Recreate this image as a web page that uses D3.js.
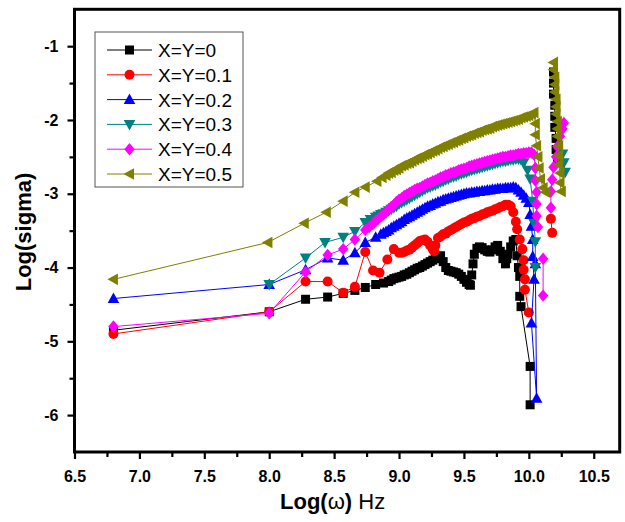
<!DOCTYPE html>
<html><head><meta charset="utf-8">
<script src="https://cdn.jsdelivr.net/npm/d3@7"></script>
<style>body{margin:0;background:#fff}svg{display:block}</style>
</head><body>
<svg id="c" width="625" height="522"></svg>
<script>
const seriesNames = ["X=Y=0","X=Y=0.1","X=Y=0.2","X=Y=0.3","X=Y=0.4","X=Y=0.5"];
const seriesColors = ["#000000","#ff0000","#0000ff","#008080","#ff00ff","#808000"];
const seriesMarkers = ["square","circle","triUp","triDown","diamond","triLeft"];
const xTicks = [6.5,7.0,7.5,8.0,8.5,9.0,9.5,10.0,10.5];
const xMinor = [6.75,7.25,7.75,8.25,8.75,9.25,9.75,10.25];
const yTicks = [-1,-2,-3,-4,-5,-6];
const yMinor = [-1.5,-2.5,-3.5,-4.5,-5.5];

// null = gap in the connecting line
const s0 = [[6.80,-4.85],[8.00,-4.60],[8.28,-4.43],[8.45,-4.40],[8.57,-4.35],[8.66,-4.31],[8.74,-4.27],[8.82,-4.23],[8.88,-4.21],[8.92,-4.19],[8.94,-4.17],[8.96,-4.15],[8.98,-4.14],[9.00,-4.13],[9.02,-4.12],[9.04,-4.10],[9.06,-4.09],[9.08,-4.07],[9.10,-4.05],[9.12,-4.03],[9.14,-4.01],[9.16,-4.00],[9.18,-3.98],[9.20,-3.96],[9.22,-3.94],[9.24,-3.92],[9.26,-3.90],[9.28,-3.88],[9.30,-3.86],[9.32,-3.84],[9.34,-3.92],[9.36,-4.00],[9.38,-4.04],[9.40,-4.05],[9.42,-4.06],[9.44,-4.07],[9.46,-4.09],[9.48,-4.12],[9.50,-4.16],[9.52,-4.20],[9.54,-4.23],[9.55,-4.24],[9.56,-4.10],[9.57,-3.95],[9.58,-3.82],[9.60,-3.74],[9.62,-3.72],[9.64,-3.73],[9.66,-3.76],[9.68,-3.78],[9.70,-3.79],[9.72,-3.76],[9.74,-3.72],[9.76,-3.70],[9.78,-3.78],[9.80,-3.88],[9.82,-3.95],[9.83,-3.88],[9.84,-3.82],[9.86,-3.72],[9.88,-3.64],[9.90,-3.62],[9.91,-3.84],[9.92,-4.00],[9.93,-4.12],[9.93,-4.39],[9.94,-4.53],[10.01,-5.34],[10.01,-5.86],null,[10.22,-2.55],[10.21,-2.40],[10.21,-2.25],[10.20,-2.10],[10.20,-1.95],[10.20,-1.80],[10.19,-1.65],[10.19,-1.50],[10.19,-1.35]];
const s1 = [[6.80,-4.90],[8.00,-4.60],[8.28,-4.19],[8.45,-4.19],[8.57,-4.34],[8.66,-4.26],[8.74,-3.79],[8.80,-4.04],[8.85,-4.07],[8.91,-3.89],[8.96,-3.75],[9.00,-3.80],[9.02,-3.80],[9.04,-3.79],[9.06,-3.77],[9.08,-3.76],[9.10,-3.73],[9.12,-3.70],[9.14,-3.67],[9.16,-3.64],[9.18,-3.63],[9.20,-3.62],[9.22,-3.65],[9.24,-3.70],[9.26,-3.75],[9.27,-3.78],[9.28,-3.70],[9.30,-3.60],[9.32,-3.58],[9.34,-3.55],[9.36,-3.54],[9.38,-3.51],[9.40,-3.49],[9.42,-3.47],[9.44,-3.45],[9.46,-3.43],[9.48,-3.41],[9.50,-3.39],[9.52,-3.38],[9.54,-3.36],[9.56,-3.34],[9.58,-3.33],[9.60,-3.31],[9.62,-3.30],[9.64,-3.28],[9.66,-3.27],[9.68,-3.25],[9.70,-3.24],[9.72,-3.23],[9.74,-3.21],[9.76,-3.20],[9.78,-3.18],[9.80,-3.17],[9.82,-3.15],[9.84,-3.15],[9.86,-3.17],[9.88,-3.25],[9.90,-3.38],[9.91,-3.48],[9.93,-3.62],[9.95,-3.75],[9.96,-3.90],[9.96,-4.03],[9.97,-4.16],[9.97,-4.30],[10.00,-4.61],null,[10.17,-3.34],[10.18,-3.53]];
const s2 = [[6.80,-4.42],[8.00,-4.23],[8.28,-4.03],[8.45,-3.87],[8.57,-3.90],[8.66,-3.80],[8.74,-3.66],[8.82,-3.59],[8.86,-3.55],[8.88,-3.53],[8.90,-3.51],[8.92,-3.49],[8.94,-3.46],[8.96,-3.44],[8.98,-3.42],[9.00,-3.40],[9.02,-3.38],[9.04,-3.35],[9.06,-3.33],[9.08,-3.31],[9.10,-3.29],[9.12,-3.27],[9.14,-3.25],[9.16,-3.23],[9.18,-3.21],[9.20,-3.19],[9.22,-3.17],[9.24,-3.16],[9.26,-3.14],[9.28,-3.13],[9.30,-3.11],[9.32,-3.10],[9.34,-3.08],[9.36,-3.07],[9.38,-3.06],[9.40,-3.05],[9.42,-3.04],[9.44,-3.03],[9.46,-3.02],[9.48,-3.01],[9.50,-3.00],[9.52,-2.99],[9.54,-2.99],[9.56,-2.98],[9.58,-2.98],[9.60,-2.97],[9.62,-2.97],[9.64,-2.96],[9.66,-2.96],[9.68,-2.95],[9.70,-2.95],[9.72,-2.94],[9.74,-2.94],[9.76,-2.93],[9.78,-2.93],[9.80,-2.93],[9.82,-2.92],[9.84,-2.92],[9.86,-2.92],[9.88,-2.91],[9.90,-2.92],[9.92,-2.95],[9.94,-2.98],[9.96,-3.02],[9.98,-3.06],[10.00,-3.12],[10.01,-3.28],[10.02,-3.44],[10.03,-3.62],[10.03,-3.85],[10.04,-4.16],[10.02,-4.75],[10.06,-5.77],[10.05,-3.95]];
const s3 = [[8.00,-4.23],[8.28,-3.87],[8.43,-3.66],[8.57,-3.59],[8.66,-3.51],[8.74,-3.39],[8.78,-3.35],[8.82,-3.32],[8.84,-3.30],[8.86,-3.28],[8.88,-3.27],[8.90,-3.25],[8.92,-3.23],[8.94,-3.21],[8.96,-3.19],[8.98,-3.17],[9.00,-3.14],[9.02,-3.12],[9.04,-3.10],[9.06,-3.08],[9.08,-3.06],[9.10,-3.04],[9.12,-3.02],[9.14,-3.00],[9.16,-2.98],[9.18,-2.96],[9.20,-2.94],[9.22,-2.92],[9.24,-2.91],[9.26,-2.89],[9.28,-2.88],[9.30,-2.86],[9.32,-2.84],[9.34,-2.83],[9.36,-2.81],[9.38,-2.80],[9.40,-2.78],[9.42,-2.77],[9.44,-2.76],[9.46,-2.74],[9.48,-2.73],[9.50,-2.72],[9.52,-2.71],[9.54,-2.69],[9.56,-2.68],[9.58,-2.67],[9.60,-2.66],[9.62,-2.65],[9.64,-2.64],[9.66,-2.63],[9.68,-2.62],[9.70,-2.61],[9.72,-2.60],[9.74,-2.59],[9.76,-2.58],[9.78,-2.57],[9.80,-2.56],[9.82,-2.56],[9.84,-2.55],[9.86,-2.54],[9.88,-2.54],[9.90,-2.53],[9.92,-2.53],[9.94,-2.54],[9.96,-2.58],[9.99,-2.68],[10.01,-2.80],[10.03,-3.10],[10.04,-3.40],[10.05,-3.65],[10.05,-4.00],null,[10.26,-2.46],[10.27,-2.58],[10.28,-2.71]];
const s4 = [[6.80,-4.80],[8.00,-4.62],[8.28,-4.06],[8.45,-3.83],[8.57,-3.75],[8.66,-3.62],[8.74,-3.49],[8.77,-3.45],[8.80,-3.41],[8.82,-3.37],[8.84,-3.34],[8.86,-3.31],[8.88,-3.28],[8.90,-3.25],[8.92,-3.21],[8.94,-3.18],[8.96,-3.15],[8.98,-3.11],[9.00,-3.08],[9.02,-3.06],[9.04,-3.03],[9.06,-3.01],[9.08,-2.99],[9.10,-2.97],[9.12,-2.95],[9.14,-2.93],[9.16,-2.92],[9.18,-2.90],[9.20,-2.88],[9.22,-2.86],[9.24,-2.85],[9.26,-2.83],[9.28,-2.82],[9.30,-2.80],[9.32,-2.78],[9.34,-2.77],[9.36,-2.75],[9.38,-2.74],[9.40,-2.72],[9.42,-2.71],[9.44,-2.70],[9.46,-2.68],[9.48,-2.67],[9.50,-2.66],[9.52,-2.65],[9.54,-2.63],[9.56,-2.62],[9.58,-2.61],[9.60,-2.60],[9.62,-2.59],[9.64,-2.58],[9.66,-2.57],[9.68,-2.56],[9.70,-2.55],[9.72,-2.54],[9.74,-2.53],[9.76,-2.52],[9.78,-2.51],[9.80,-2.50],[9.82,-2.50],[9.84,-2.49],[9.86,-2.48],[9.88,-2.48],[9.90,-2.47],[9.92,-2.46],[9.94,-2.46],[9.96,-2.45],[9.98,-2.45],[10.00,-2.44],[10.02,-2.44],[10.04,-2.47],[10.05,-2.65],[10.05,-2.82],[10.06,-2.98],[10.06,-3.14],[10.06,-3.30],[10.07,-3.45],null,[10.11,-3.88],[10.11,-4.38],null,[10.17,-3.19],[10.17,-2.97],[10.18,-2.81],[10.19,-2.64],[10.21,-2.50],[10.22,-2.36],[10.24,-2.22],[10.26,-2.12],[10.27,-2.04]];
const s5 = [[6.80,-4.16],[7.99,-3.66],[8.27,-3.40],[8.44,-3.25],[8.57,-3.10],[8.66,-2.98],[8.74,-2.91],[8.83,-2.83],[8.87,-2.78],[8.90,-2.75],[8.92,-2.72],[8.94,-2.71],[8.96,-2.68],[8.98,-2.67],[9.00,-2.65],[9.02,-2.62],[9.04,-2.61],[9.06,-2.59],[9.08,-2.58],[9.10,-2.56],[9.12,-2.54],[9.14,-2.52],[9.16,-2.51],[9.18,-2.49],[9.20,-2.47],[9.22,-2.46],[9.24,-2.44],[9.26,-2.42],[9.28,-2.41],[9.30,-2.39],[9.32,-2.37],[9.34,-2.36],[9.36,-2.34],[9.38,-2.33],[9.40,-2.31],[9.42,-2.30],[9.44,-2.28],[9.46,-2.27],[9.48,-2.25],[9.50,-2.24],[9.52,-2.22],[9.54,-2.21],[9.56,-2.20],[9.58,-2.18],[9.60,-2.17],[9.62,-2.16],[9.64,-2.14],[9.66,-2.13],[9.68,-2.12],[9.70,-2.11],[9.72,-2.09],[9.74,-2.08],[9.76,-2.07],[9.78,-2.06],[9.80,-2.05],[9.82,-2.04],[9.84,-2.03],[9.86,-2.02],[9.88,-2.01],[9.90,-2.00],[9.92,-1.99],[9.94,-1.97],[9.96,-1.96],[9.98,-1.95],[10.00,-1.94],[10.02,-1.92],[10.04,-1.90],[10.05,-2.05],[10.05,-2.20],[10.06,-2.35],[10.07,-2.50],[10.08,-2.65],[10.09,-2.80],[10.11,-2.92],[10.13,-2.98],[10.25,-2.97],[10.24,-2.85],[10.24,-2.72],[10.23,-2.60],[10.23,-2.48],[10.23,-2.35],[10.22,-2.22],[10.22,-2.12],[10.22,-2.02],[10.21,-1.92],[10.21,-1.82],[10.21,-1.72],[10.20,-1.62],[10.20,-1.52],[10.20,-1.42],[10.19,-1.32],[10.19,-1.22]];
const allSeries = [s0,s1,s2,s3,s4,s5];

const svg = d3.select("#c");
const x = d3.scaleLinear().domain([6.5,10.7]).range([74.5,619.7]);
const y = d3.scaleLinear().domain([-6.5,-0.5]).range([452,9.3]);

function markerPath(type){
  switch(type){
    case "square": return "M-4.5,-4.5H4.5V4.5H-4.5Z";
    case "circle": return "M5,0A5,5 0 1,1 -5,0A5,5 0 1,1 5,0Z";
    case "triUp": return "M0,-6L5.8,4.5L-5.8,4.5Z";
    case "triDown": return "M0,6L5.8,-4.5L-5.8,-4.5Z";
    case "diamond": return "M0,-6.2L5.2,0L0,6.2L-5.2,0Z";
    case "triLeft": return "M-6,0L4.5,-5.8L4.5,5.8Z";
  }
}

const line = d3.line().defined(d => d !== null).x(d => x(d[0])).y(d => y(d[1]));

allSeries.forEach((data, i) => {
  const g = svg.append("g");
  g.append("path").attr("d", line(data)).attr("fill","none")
    .attr("stroke", seriesColors[i]).attr("stroke-width", 1);
  g.selectAll("path.m").data(data.filter(d => d !== null)).join("path").attr("class","m")
    .attr("d", markerPath(seriesMarkers[i]))
    .attr("transform", d => `translate(${x(d[0])},${y(d[1])})`)
    .attr("fill", seriesColors[i]);
});

// axes
const font = "'Liberation Sans', Arial, sans-serif";
const xAxis = svg.append("g").attr("transform","translate(0,452)")
  .call(d3.axisBottom(x).tickValues(xTicks).tickFormat(d3.format(".1f")).tickSize(7).tickPadding(12));
const xAxisMinor = svg.append("g").attr("transform","translate(0,452)")
  .call(d3.axisBottom(x).tickValues(xMinor).tickFormat("").tickSize(5));
const yAxis = svg.append("g").attr("transform","translate(74.5,0)")
  .call(d3.axisLeft(y).tickValues(yTicks).tickFormat(d => String(d)).tickSize(7).tickPadding(9));
const yAxisMinor = svg.append("g").attr("transform","translate(74.5,0)")
  .call(d3.axisLeft(y).tickValues(yMinor).tickFormat("").tickSize(5));
[xAxis,xAxisMinor,yAxis,yAxisMinor].forEach(a => {
  a.select(".domain").remove();
  a.selectAll("line").attr("stroke","#000").attr("stroke-width",2.2);
  a.selectAll("text").attr("font-family",font).attr("font-weight","bold")
    .attr("font-size",16).attr("fill","#000");
});

// frame
svg.append("rect").attr("x",74.5).attr("y",9.3).attr("width",619.7-74.5).attr("height",452-9.3)
  .attr("fill","none").attr("stroke","#000").attr("stroke-width",3);

// axis titles
const xt = svg.append("text").attr("x",280).attr("y",509).attr("font-family",font)
  .attr("font-size",22).attr("fill","#000");
xt.append("tspan").attr("font-weight","bold").text("Log(");
xt.append("tspan").text("ω");
xt.append("tspan").attr("font-weight","bold").text(")");
xt.append("tspan").text(" Hz");

svg.append("text").attr("transform","translate(31,232) rotate(-90)").attr("text-anchor","middle")
  .attr("font-family",font).attr("font-size",22).attr("font-weight","bold").attr("fill","#000")
  .text("Log(sigma)");

// legend
const lg = svg.append("g");
lg.append("rect").attr("x",95).attr("y",32).attr("width",148).attr("height",155)
  .attr("fill","#fff").attr("stroke","#555").attr("stroke-width",1);
seriesNames.forEach((name, i) => {
  const yy = 50 + i*24.8;
  lg.append("line").attr("x1",107).attr("x2",152).attr("y1",yy).attr("y2",yy)
    .attr("stroke",seriesColors[i]).attr("stroke-width",1);
  lg.append("path").attr("d",markerPath(seriesMarkers[i])).attr("transform",`translate(129.5,${yy})`)
    .attr("fill",seriesColors[i]);
  lg.append("text").attr("x",158).attr("y",yy+7).attr("font-family",font).attr("font-size",19)
    .attr("fill","#000").text(name);
});
</script>
</body></html>
